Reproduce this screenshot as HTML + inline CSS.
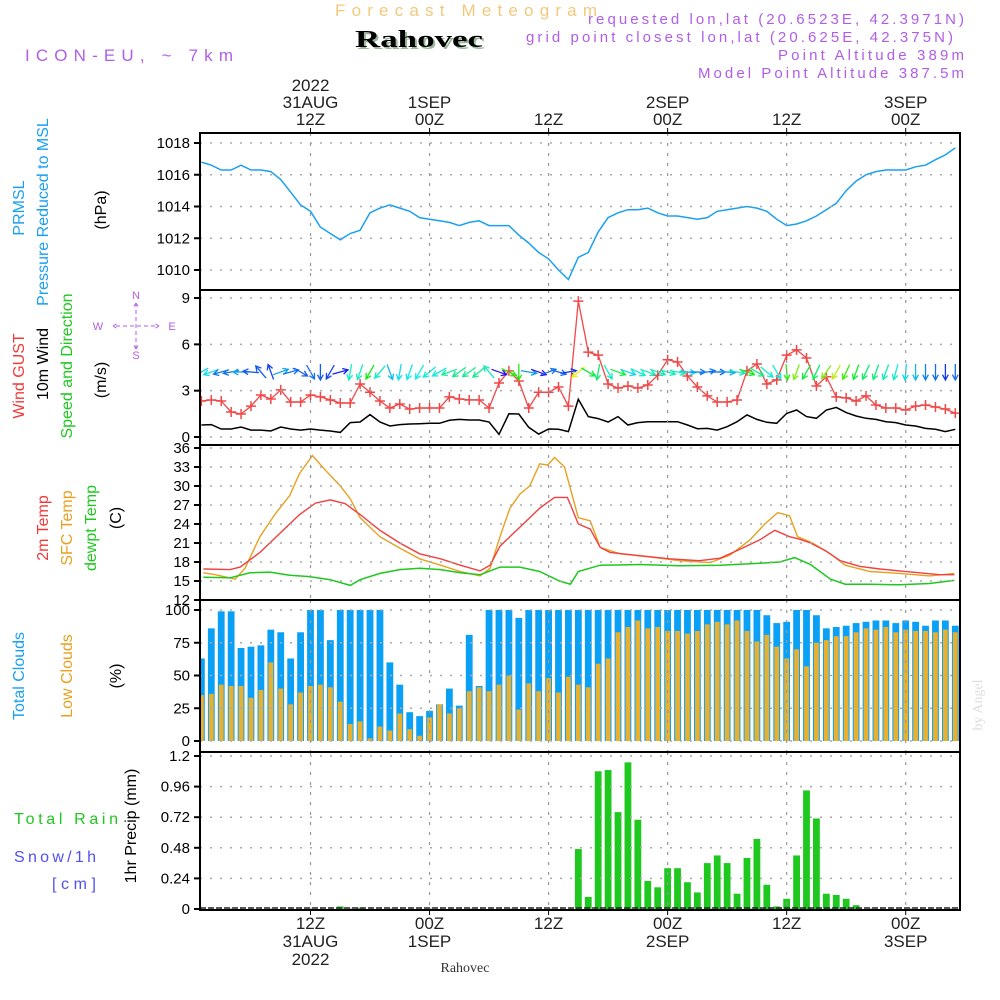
<!DOCTYPE html>
<html><head><meta charset="utf-8">
<style>
html,body{margin:0;padding:0;background:#fff;}
svg{display:block;font-family:"Liberation Sans",sans-serif;}
</style></head>
<body>
<svg id="chart" width="1000" height="1000" viewBox="0 0 1000 1000" xmlns="http://www.w3.org/2000/svg">
<defs>
<clipPath id="clipPlot"><rect x="200" y="133" width="760" height="777"/></clipPath>
</defs>
<g id="titles">
<text x="335" y="16" font-size="17" fill="#f2c97c" textLength="262" lengthAdjust="spacing">Forecast Meteogram</text>
<text x="357" y="49" font-size="24" font-weight="bold" font-family="Liberation Serif, serif" fill="#9bb89b" textLength="128" lengthAdjust="spacingAndGlyphs">Rahovec</text>
<text x="355" y="47" font-size="24" font-weight="bold" font-family="Liberation Serif, serif" fill="#000" textLength="128" lengthAdjust="spacingAndGlyphs">Rahovec</text>
<text x="25" y="61" font-size="17" fill="#b05ee8" textLength="208" lengthAdjust="spacing">ICON-EU, ~ 7km</text>
<text x="964" y="24" font-size="15" fill="#b05ee8" text-anchor="end" textLength="376" lengthAdjust="spacing">requested lon,lat (20.6523E, 42.3971N)</text>
<text x="953" y="42" font-size="15" fill="#b05ee8" text-anchor="end" textLength="427" lengthAdjust="spacing">grid point closest lon,lat (20.625E, 42.375N)</text>
<text x="964" y="60" font-size="15" fill="#b05ee8" text-anchor="end" textLength="186" lengthAdjust="spacing">Point Altitude 389m</text>
<text x="964" y="78" font-size="15" fill="#b05ee8" text-anchor="end" textLength="266" lengthAdjust="spacing">Model Point Altitude 387.5m</text>
<text x="465" y="972" font-size="14" font-family="Liberation Serif, serif" fill="#333" text-anchor="middle">Rahovec</text>
<text transform="translate(982,705) rotate(-90)" font-size="14" font-family="Liberation Serif, serif" fill="#ddd" text-anchor="middle">by Angel</text>
</g>
<g id="leftLabels" font-size="16">
<text transform="translate(24,208) rotate(-90)" fill="#1aa0f0" text-anchor="middle">PRMSL</text>
<text transform="translate(48,212) rotate(-90)" fill="#1aa0f0" text-anchor="middle">Pressure Reduced to MSL</text>
<text transform="translate(106,210) rotate(-90)" fill="#000" text-anchor="middle">(hPa)</text>
<text transform="translate(24,376) rotate(-90)" fill="#f03a3a" text-anchor="middle">Wind GUST</text>
<text transform="translate(48,364) rotate(-90)" fill="#000" text-anchor="middle">10m Wind</text>
<text transform="translate(72,366) rotate(-90)" fill="#1ec81e" text-anchor="middle">Speed and Direction</text>
<text transform="translate(106,380) rotate(-90)" fill="#000" text-anchor="middle">(m/s)</text>
<text transform="translate(48,528) rotate(-90)" fill="#f03a3a" text-anchor="middle">2m Temp</text>
<text transform="translate(72,528) rotate(-90)" fill="#e8a020" text-anchor="middle">SFC Temp</text>
<text transform="translate(96,528) rotate(-90)" fill="#1ec81e" text-anchor="middle">dewpt Temp</text>
<text transform="translate(121,518) rotate(-90)" fill="#000" text-anchor="middle">(C)</text>
<text transform="translate(24,676) rotate(-90)" fill="#1aa0f0" text-anchor="middle">Total Clouds</text>
<text transform="translate(72,676) rotate(-90)" fill="#e8a020" text-anchor="middle">Low Clouds</text>
<text transform="translate(121,676) rotate(-90)" fill="#000" text-anchor="middle">(%)</text>
<text transform="translate(136,826) rotate(-90)" fill="#000" text-anchor="middle">1hr Precip (mm)</text>
<text x="14" y="824" fill="#1ec81e" textLength="104" lengthAdjust="spacing">Total   Rain</text>
<text x="14" y="862" fill="#5050f0" textLength="82" lengthAdjust="spacing">Snow/1h</text>
<text x="52" y="889" fill="#5050f0" textLength="44" lengthAdjust="spacing">[cm]</text>
<g fill="#b05ee8" font-size="11" stroke="none">
<text x="136" y="299" text-anchor="middle">N</text>
<text x="98" y="330" text-anchor="middle">W</text>
<text x="172" y="330" text-anchor="middle">E</text>
<text x="136" y="359" text-anchor="middle">S</text>
<path d="M136 303 V348 M116 326 H156 M113 326 l5 -3 M113 326 l5 3 M159 326 l-5 -3 M159 326 l-5 3 M136 303 l-3 5 M136 303 l3 5 M136 349 l-3 -5 M136 349 l3 -5" stroke="#b05ee8" stroke-width="1" stroke-dasharray="4 3" fill="none"/>
</g>
</g>
<g id="plot"></g>
</svg>
<script>
// ===== data =====
const hours = [];
for (let h = 1; h <= 77; h++) hours.push(h);
const pressure = [1016.8,1016.6,1016.3,1016.3,1016.6,1016.3,1016.3,1016.2,1015.7,1014.9,1014.1,1013.7,1012.7,1012.3,1011.9,1012.3,1012.5,1013.6,1013.9,1014.1,1013.9,1013.7,1013.3,1013.2,1013.1,1013.0,1012.8,1013.0,1013.1,1012.8,1012.8,1012.8,1012.2,1011.7,1011.1,1010.7,1010.0,1009.4,1010.8,1011.1,1012.4,1013.3,1013.6,1013.8,1013.8,1013.9,1013.6,1013.4,1013.4,1013.3,1013.2,1013.3,1013.7,1013.8,1013.9,1014.0,1013.9,1013.7,1013.2,1012.8,1012.9,1013.1,1013.4,1013.8,1014.2,1015.0,1015.6,1016.0,1016.2,1016.3,1016.3,1016.3,1016.5,1016.6,1016.95,1017.25,1017.7];
const windGust = [2.33,2.4,2.33,1.62,1.49,2.0,2.72,2.46,3.05,2.27,2.27,2.72,2.6,2.4,2.2,2.2,3.43,2.9,2.33,1.88,2.14,1.81,1.88,1.88,1.88,2.6,2.46,2.4,2.4,1.88,3.5,4.28,3.63,1.88,2.9,2.9,3.24,2.0,8.8,5.5,5.3,3.43,3.17,3.3,3.17,3.37,4.0,5.0,4.86,3.95,3.24,2.66,2.27,2.27,2.4,4.28,4.73,3.43,3.7,5.3,5.64,5.12,3.3,3.9,2.6,2.53,2.33,2.66,2.07,1.88,1.88,1.75,2.0,2.07,1.94,1.81,1.55];
const wind10m = [0.78,0.8,0.52,0.52,0.65,0.45,0.45,0.39,0.65,0.52,0.45,0.52,0.45,0.39,0.3,0.93,0.97,1.45,0.97,0.71,0.8,0.84,0.86,0.89,0.89,1.08,1.14,1.1,1.1,0.97,0.17,1.5,1.49,0.63,0.19,0.52,0.5,0.35,2.44,1.32,1.19,0.97,1.32,0.78,0.93,0.99,0.99,0.99,0.99,0.78,0.54,0.56,0.45,0.67,0.99,1.43,1.14,0.95,0.89,1.53,1.75,1.32,1.21,1.75,1.92,1.58,1.36,1.21,1.14,0.99,0.93,0.78,0.71,0.56,0.5,0.35,0.5];
const windDir = [150,160,165,170,180,185,230,250,340,345,30,60,90,120,345,100,110,120,130,70,100,110,120,140,150,160,145,145,140,230,20,25,90,10,20,340,15,350,140,30,100,60,20,20,25,20,20,15,10,5,0,350,0,5,10,20,30,40,60,85,110,120,115,125,120,115,110,115,110,110,105,95,90,90,90,90,90];
const t2Hours = [1.2,3.9,4.9,6.9,8.9,10.9,12.5,14.0,15.5,17.0,19.0,21.0,23.0,25.1,27.1,29.1,30.1,31.1,33.1,35.1,36.6,37.9,39.0,40.2,41.2,42.2,45.2,48.2,51.2,53.3,55.3,57.3,58.8,60.3,61.3,62.4,63.9,65.4,67.4,69.4,71.4,73.4,75.4,76.9];
const t2 = [16.9,16.8,17.2,19.5,22.5,25.5,27.3,27.8,27.2,25.5,23,21,19.3,18.5,17.5,16.6,17.5,20.5,23.5,26.5,28.2,28.2,24,23.2,20.3,19.5,19,18.5,18.2,18.6,20,21.5,23,22,21.6,21,19.8,18.2,17.3,16.9,16.6,16.3,16.0,16.0];
const sfcHours = [1.2,2.4,4.4,5.4,6.9,8.4,9.9,10.9,12.2,13.5,15.0,16.0,17.0,19.0,21.0,23.0,25.1,27.1,29.1,30.1,31.1,32.1,33.1,34.1,35.1,35.9,36.6,37.6,39.0,40.2,41.2,43.2,46.2,49.2,52.3,54.3,56.3,57.8,59.1,60.3,61.1,62.6,64.4,65.9,68.4,71.4,74.4,76.9];
const sfcTemp = [16.3,16.0,15.3,17,22,25.5,28.5,32,34.8,32.5,30,28,25,22,20.2,18.5,17.5,16.5,15.8,17,22,26.5,28.7,30,33.5,33.3,34.5,33,25,24.5,20.3,19.3,18.8,18.2,17.9,19.1,21.5,24,25.8,25.3,22,21,19.3,17.5,16.5,16.2,15.8,16.2];
const dewHours = [1.2,3.9,5.9,7.9,9.9,11.9,14.0,16.0,17.0,19.0,21.0,23.0,25.1,27.1,29.1,31.1,33.1,35.1,37.1,38.2,39.0,41.2,45.2,49.2,53.3,57.3,59.3,60.8,62.4,64.4,65.9,68.4,71.4,74.4,76.9];
const dewTemp = [15.6,15.5,16.3,16.4,15.9,15.7,15.2,14.3,15.2,16.2,16.8,17.0,16.8,16.3,16.0,17.2,17.2,16.5,15.0,14.5,16.5,17.5,17.6,17.4,17.5,17.8,18.0,18.7,17.6,15.3,14.5,14.5,14.4,14.6,15.1];
const totalClouds = [63,86,99,99,71,72,73,85,83,63,83,100,100,77,100,100,100,100,100,60,43,22,19,23,28,40,27,81,42,100,100,100,94,100,100,100,100,100,100,100,100,100,100,100,100,100,100,100,100,100,100,100,100,100,100,100,100,96,90,91,100,100,96,86,87,88,90,91,92,92,90,92,91,88,92,92,88];
const lowClouds = [35,36,43,42,42,33,39,60,40,28,37,42,43,41,30,13,15,2,11,8,21,9,4,18,28,21,25,38,41,38,43,50,24,44,38,48,37,49,43,41,59,63,83,87,92,86,87,84,84,82,84,89,91,89,92,84,76,81,72,63,70,57,75,77,80,80,83,86,85,87,83,85,84,84,83,85,83];
const precipHours = [15,17,39,40,41,42,43,44,45,46,47,48,49,50,51,52,53,54,55,56,57,58,59,60,61,62,63,64,65,66,67];
const precip = [0.02,0.01,0.47,0.095,1.08,1.09,0.76,1.15,0.70,0.22,0.17,0.32,0.32,0.21,0.13,0.36,0.42,0.36,0.12,0.40,0.55,0.19,0.02,0.08,0.42,0.93,0.71,0.12,0.11,0.08,0.03];
const p1Ticks = [1010,1012,1014,1016,1018];
const p2Ticks = [0,3,6,9];
const p3Ticks = [12,15,18,21,24,27,30,33,36];
const p4Ticks = [0,25,50,75,100];
const p5Ticks = [0,0.24,0.48,0.72,0.96,1.2];
const p5TickLabels = ["0","0.24","0.48","0.72","0.96","1.2"];
const timeTicks = [12,24,36,48,60,72];
const topLabels = [["2022","31AUG","12Z"],["1SEP","00Z"],["12Z"],["2SEP","00Z"],["12Z"],["3SEP","00Z"]];
const bottomLabels = [["12Z","31AUG","2022"],["00Z","1SEP"],["12Z"],["00Z","2SEP"],["12Z"],["00Z","3SEP"]];

// ===== scales =====
const X0 = 200, X1 = 960;
const xS = h => 310.5 + (h - 12) * 9.92;
const panels = {
  p1:{top:133,bot:290,y:v=>270-(v-1010)*15.875},
  p2:{top:290,bot:445,y:v=>437-v*15.44},
  p3:{top:445,bot:600,y:v=>600-(v-12)*6.333},
  p4:{top:600,bot:752,y:v=>741-v*1.31},
  p5:{top:752,bot:910,y:v=>909-v*127.5}
};
const NS = "http://www.w3.org/2000/svg";
const root = document.getElementById('plot');
function mk(tag, attrs, parent){
  const e = document.createElementNS(NS, tag);
  for (const k in attrs) e.setAttribute(k, attrs[k]);
  (parent||root).appendChild(e);
  return e;
}
const clipG = mk('g', {'clip-path':'url(#clipPlot)'});



function panelFrame(p, ticks, labels, name){
  const P = panels[p];
  ticks.forEach((t,i)=>{
    const y = P.y(t);
    const gl = mk('line',{x1:X0,x2:X1,y1:y,y2:y,stroke:'#aaa','stroke-width':1.5,'stroke-dasharray':'2 8'});
    
    
    const tk = mk('line',{x1:X0-6,x2:X0,y1:y,y2:y,stroke:'#000','stroke-width':2});
    
    
    const tx = mk('text',{x:X0-10,y:y+5,'font-size':15,'text-anchor':'end',fill:'#000'});
    tx.textContent = labels ? labels[i] : String(t);
    
    
  });
  timeTicks.forEach(h=>{
    const vl = mk('line',{x1:xS(h),x2:xS(h),y1:P.top,y2:P.bot,stroke:'#999','stroke-width':1.2,'stroke-dasharray':'3 7'});
    
    
  });
}
panelFrame('p1', p1Ticks, null, 'pressure');
panelFrame('p2', p2Ticks, null, 'wind');
panelFrame('p3', p3Ticks, null, 'temp');
panelFrame('p4', p4Ticks, null, 'clouds');
panelFrame('p5', p5Ticks, p5TickLabels, 'precip');

function linePath(hs, vs, yf){
  return hs.map((h,i)=>(i?'L':'M')+xS(h).toFixed(1)+' '+yf(vs[i]).toFixed(1)).join(' ');
}
const pl = mk('path',{d:linePath(hours,pressure,panels.p1.y),fill:'none',stroke:'#1aa0f0','stroke-width':1.5},clipG);



const wl = mk('path',{d:linePath(hours,wind10m,panels.p2.y),fill:'none',stroke:'#000','stroke-width':1.5},clipG);


const gl2 = mk('path',{d:linePath(hours,windGust,panels.p2.y),fill:'none',stroke:'#f04848','stroke-width':1.3},clipG);


hours.forEach((h,i)=>{
  const x = xS(h), y = panels.p2.y(windGust[i]);
  const c = mk('path',{d:`M${x-5} ${y} H${x+5} M${x} ${y-5} V${y+5}`,stroke:'#f04848','stroke-width':1.5},clipG);
  
  
});
hours.forEach((h,i)=>{
  const cx = xS(h), cy = 372;
  const a = windDir[i]*Math.PI/180, L = 8;
  const x1 = cx - Math.cos(a)*L, y1 = cy - Math.sin(a)*L;
  const x2 = cx + Math.cos(a)*L, y2 = cy + Math.sin(a)*L;
  const hx1 = x2 - Math.cos(a-0.5)*6, hy1 = y2 - Math.sin(a-0.5)*6;
  const hx2 = x2 - Math.cos(a+0.5)*6, hy2 = y2 - Math.sin(a+0.5)*6;
  const hue = Math.max(60, Math.min(270, 265 - wind10m[i]*100));
  const ar = mk('path',{d:`M${x1.toFixed(1)} ${y1.toFixed(1)} L${x2.toFixed(1)} ${y2.toFixed(1)} M${hx1.toFixed(1)} ${hy1.toFixed(1)} L${x2.toFixed(1)} ${y2.toFixed(1)} L${hx2.toFixed(1)} ${hy2.toFixed(1)}`,stroke:`hsl(${hue},85%,50%)`,'stroke-width':1.3,fill:'none'},clipG);
  
  
});

const sl = mk('path',{d:linePath(sfcHours,sfcTemp,panels.p3.y),fill:'none',stroke:'#e8a020','stroke-width':1.4},clipG);


const tl = mk('path',{d:linePath(t2Hours,t2,panels.p3.y),fill:'none',stroke:'#f04040','stroke-width':1.4},clipG);


const dl = mk('path',{d:linePath(dewHours,dewTemp,panels.p3.y),fill:'none',stroke:'#1ec81e','stroke-width':1.5},clipG);



hours.forEach((h,i)=>{
  const x = xS(h), y0 = panels.p4.y(0);
  const yt = panels.p4.y(totalClouds[i]);
  const b = mk('rect',{x:x-3.4,y:yt,width:6.8,height:y0-yt,fill:'#0aa0f5'},clipG);
  
  
  const yl = panels.p4.y(lowClouds[i]);
  const lb = mk('rect',{x:x-2.4,y:yl,width:4.8,height:y0-yl,fill:'#e8b030'},clipG);
  
  
});

precipHours.forEach((h,i)=>{
  const x = xS(h), y0 = panels.p5.y(0), y = panels.p5.y(precip[i]);
  const b = mk('rect',{x:x-3.4,y:y,width:6.8,height:y0-y,fill:'#1ec81e'},clipG);
  
  
});
const base = mk('line',{x1:X0,x2:X1,y1:908,y2:908,stroke:'#222','stroke-width':1.5,'stroke-dasharray':'6 2'});



['p1','p2','p3','p4','p5'].forEach(p=>{
  const P = panels[p];
  const r = mk('rect',{x:X0,y:P.top,width:X1-X0,height:P.bot-P.top,fill:'none',stroke:'#000','stroke-width':2});
  
  
});

timeTicks.forEach((h,i)=>{
  const x = xS(h);
  const tt = mk('line',{x1:x,x2:x,y1:128,y2:133,stroke:'#000','stroke-width':1});
  
  
  const lines = topLabels[i];
  lines.forEach((s,j)=>{
    const t = mk('text',{x:x,y:125-(lines.length-1-j)*17,'font-size':17,'text-anchor':'middle',fill:'#222'});
    t.textContent = s;
    
    
  });
  const bt = mk('line',{x1:x,x2:x,y1:910,y2:915,stroke:'#000','stroke-width':1});
  
  
  bottomLabels[i].forEach((s,j)=>{
    const t = mk('text',{x:x,y:929+j*18,'font-size':17,'text-anchor':'middle',fill:'#222'});
    t.textContent = s;
    
    
  });
});
</script>
</body></html>
